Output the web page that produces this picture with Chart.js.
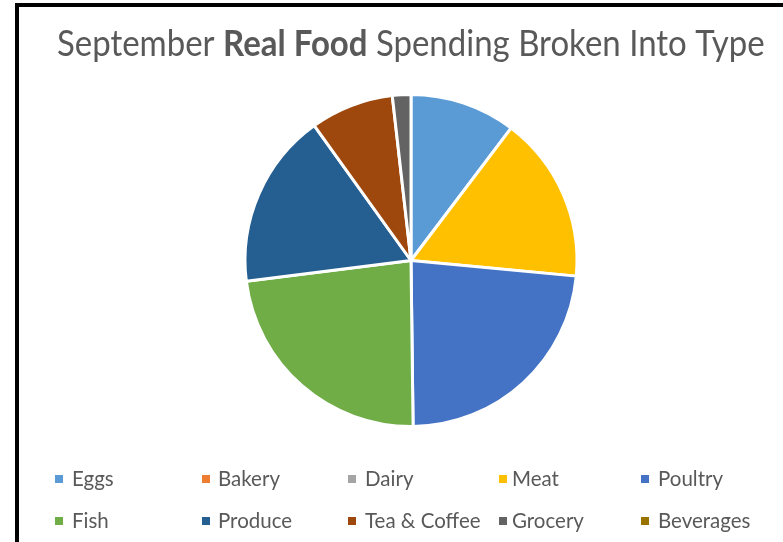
<!DOCTYPE html>
<html>
<head>
<meta charset="utf-8">
<script src="https://cdn.jsdelivr.net/npm/chart.js@4.4.1/dist/chart.umd.min.js"></script>
<style>
  html, body { margin: 0; padding: 0; background: #fff; overflow: hidden; }
  #frame { position: absolute; left: 15px; top: 3px; width: 820px; height: 600px;
           border-left: 4px solid #000; border-top: 4px solid #000; }
  #wrap { position: absolute; left: 0; top: 0; width: 783px; height: 542px; }
</style>
</head>
<body>
<div id="frame"></div>
<div id="wrap"><canvas id="chart" width="783" height="542"></canvas></div>
<script>
// September spending per food type
const categories = ['Eggs', 'Bakery', 'Dairy', 'Meat', 'Poultry', 'Fish', 'Produce', 'Tea & Coffee', 'Grocery', 'Beverages'];
const spending = [10.3, 0, 0, 16.2, 23.3, 23.2, 17.1, 8.1, 1.8, 0];
const sliceColors = ['#5B9BD5', '#ED7D31', '#A5A5A5', '#FFC000', '#4472C4', '#70AD47', '#255E91', '#9E480E', '#636363', '#997300'];
const titleParts = [['September ', 'normal'], ['Real Food', 'bold'], [' Spending Broken Into Type', 'normal']];

const FONT = 'Lato, "Open Sans", sans-serif';
const TEXT_COLOR = '#595959';

// title with a bold run in the middle, scaled to span the header
// (slightly condensed so the glyphs come out a bit taller)
const titlePlugin = {
    id: 'richTitle',
    afterDraw(chart) {
        const ctx = chart.ctx;
        const left = 57, right = 765, baseline = 56, squeeze = 0.92;
        const measure = (size) => titleParts.reduce((w, [txt, weight]) => {
            ctx.font = `${weight} ${size}px ${FONT}`;
            return w + ctx.measureText(txt).width;
        }, 0);
        const size = 30 * (right - left) / (measure(30) * squeeze);
        ctx.save();
        ctx.fillStyle = TEXT_COLOR;
        ctx.textBaseline = 'alphabetic';
        ctx.translate(left, baseline);
        ctx.scale(squeeze, 1);
        let x = 0;
        titleParts.forEach(([txt, weight]) => {
            ctx.font = `${weight} ${size}px ${FONT}`;
            ctx.fillText(txt, x, 0);
            x += ctx.measureText(txt).width;
        });
        ctx.restore();
    }
};

// two-row legend laid out on fixed columns
const legendPlugin = {
    id: 'gridLegend',
    afterDraw(chart) {
        const ctx = chart.ctx;
        const boxX = [55, 202, 348, 499, 641];
        const textX = [72, 218, 365, 512, 658];
        const rowY = [479, 521];
        const labels = chart.data.labels;
        const colors = chart.data.datasets[0].backgroundColor;
        ctx.save();
        ctx.font = `20.5px ${FONT}`;
        ctx.textBaseline = 'middle';
        labels.forEach((label, i) => {
            const col = i % 5, row = Math.floor(i / 5);
            ctx.fillStyle = colors[i];
            ctx.fillRect(boxX[col], rowY[row] - 4, 8, 8);
            ctx.fillStyle = TEXT_COLOR;
            ctx.fillText(label, textX[col], rowY[row]);
        });
        ctx.restore();
    }
};

const ctx = document.getElementById('chart').getContext('2d');
new Chart(ctx, {
    type: 'pie',
    data: {
        labels: categories,
        datasets: [{
            data: spending,
            backgroundColor: sliceColors,
            borderColor: '#ffffff',
            borderWidth: 3,
            radius: 166
        }]
    },
    options: {
        responsive: false,
        animation: false,
        layout: { padding: { top: 94.5, bottom: 115.5, left: 245, right: 206 } },
        plugins: {
            legend: { display: false },
            tooltip: { enabled: false }
        }
    },
    plugins: [titlePlugin, legendPlugin]
});
</script>
</body>
</html>
